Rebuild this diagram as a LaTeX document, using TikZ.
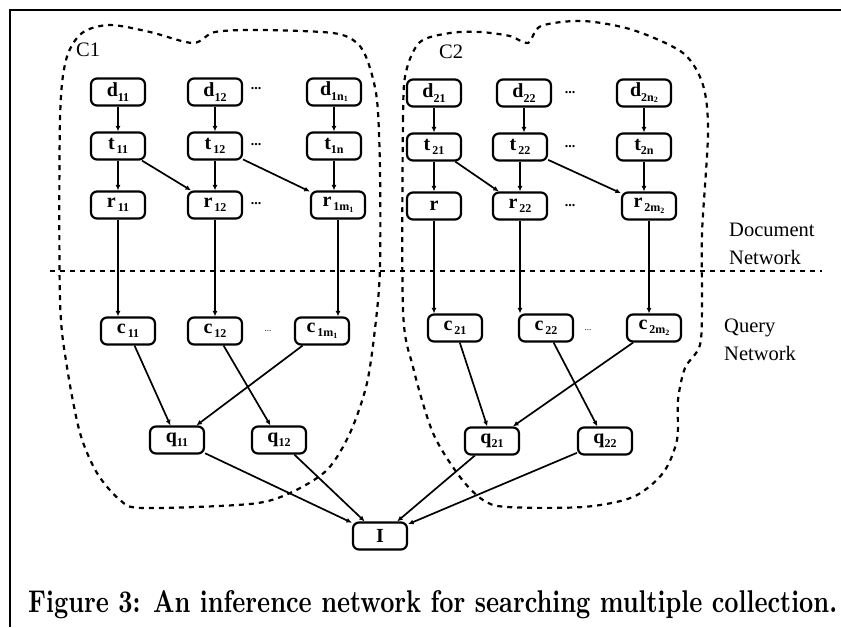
\documentclass[tikz,border=0pt]{standalone}
\usepackage{fontspec}
\usepackage{graphicx}
\newfontfamily\tms{Liberation Serif}
\usetikzlibrary{arrows.meta}
\newcommand{\lb}[2]{#1\raisebox{-0.45ex}{\fontsize{12}{12}\selectfont #2}}
\newcommand{\sss}[1]{\raisebox{-0.35ex}{\fontsize{8}{8}\selectfont #1}}
\begin{document}
\begin{tikzpicture}[x=1pt,y=-1pt,
  nd/.style={draw, line width=2.2pt, rounded corners=6pt, minimum width=54pt,
    minimum height=27pt, inner sep=0pt, font=\tms\bfseries\fontsize{20}{20}\selectfont},
  ar/.style={line width=1.7pt, -{Latex[length=5.5pt,width=5pt]}},
  blob/.style={line width=2.2pt, dash pattern=on 5pt off 5pt},
  dts/.style={font=\tms\bfseries\fontsize{14}{14}\selectfont, inner sep=0pt},
  sdts/.style={font=\tms\fontsize{9}{9}\selectfont, inner sep=0pt},
  lbl/.style={font=\tms\fontsize{20.5}{28}\selectfont, align=left, anchor=west, inner sep=0pt}]
\useasboundingbox (0,0) rectangle (841,627);
% frame
\draw[line width=2.5pt] (10,627) -- (10,10) -- (841,10);
% separator
\draw[blob] (50,271) -- (822,271);
% collection outlines
\draw[blob] plot[smooth cycle, tension=0.5] coordinates {
 (60,300) (60,120) (66,60) (82,33) (110,25) (150,32) (193,43) (215,32) (260,30)
 (333,33) (357,43) (368,62) (377,100) (380,170) (380,267) (376,320) (367,383)
 (350,433) (327,470) (290,493) (250,504) (143,508) (120,500) (97,473) (80,433) (67,367)};
\draw[blob] plot[smooth cycle, tension=0.5] coordinates {
 (403,310) (403,120) (406,72) (420,42) (450,33) (480,32) (510,36) (528,43) (541,26)
 (583,21) (633,30) (683,53) (703,85) (708,133) (702,233) (702,300) (700,345) (685,368)
 (678,400) (677,440) (663,473) (633,497) (583,507) (507,507) (483,500) (460,477)
 (433,433) (413,367)};
% collection labels
\node[lbl] (C1) at (76,50) {C1};
\node[lbl] (C2) at (439,52) {C2};
% side labels
\node[lbl] (docnet) at (729,244) {Document\\Network};
\node[lbl] (qnet) at (724,340) {Query\\Network};
% collection 1 nodes
\node[nd] (d11) at (118,92) {\lb{d}{11}};
\node[nd] (d12) at (215,92) {\lb{d}{12}};
\node[nd] (d1n) at (334,92) {\lb{d}{1n\sss{1}}};
\node[nd] (t11) at (118,146) {\lb{t}{\,11}};
\node[nd] (t12) at (215,146) {\lb{t}{\,12}};
\node[nd] (t1n) at (334,146) {\lb{t}{1n}};
\node[nd] (r11) at (118,205) {\lb{r}{\,11}};
\node[nd] (r12) at (215,205) {\lb{r}{\,12}};
\node[nd] (r1m) at (338,205) {\lb{r}{\,1m\sss{1}}};
\node[nd] (c11) at (128,331) {\lb{c}{\,11}};
\node[nd] (c12) at (215,331) {\lb{c}{\,12}};
\node[nd] (c1m) at (322,331) {\lb{c}{\,1m\sss{1}}};
\node[nd] (q11) at (177,440) {\lb{q}{11}};
\node[nd] (q12) at (279,440) {\lb{q}{12}};
% collection 2 nodes
\node[nd] (d21) at (434,93) {\lb{d}{21}};
\node[nd] (d22) at (524,93) {\lb{d}{22}};
\node[nd] (d2n) at (644,93) {\lb{d}{2n\sss{2}}};
\node[nd] (t21) at (434,147) {\lb{t}{\,21}};
\node[nd] (t22) at (520,147) {\lb{t}{\,22}};
\node[nd] (t2n) at (644,147) {\lb{t}{2n}};
\node[nd] (r21) at (434,206) {r};
\node[nd] (r22) at (520,206) {\lb{r}{\,22}};
\node[nd] (r2m) at (649,206) {\lb{r}{\,2m\sss{2}}};
\node[nd] (c21) at (455,328) {\lb{c}{\,21}};
\node[nd] (c22) at (546,328) {\lb{c}{\,22}};
\node[nd] (c2m) at (654,328) {\lb{c}{\,2m\sss{2}}};
\node[nd] (q21) at (492,441) {\lb{q}{21}};
\node[nd] (q22) at (605,441) {\lb{q}{22}};
% final node
\node[nd] (I) at (380,536) {I};
% ellipses
\node[dts] (e1) at (256,89) {...};
\node[dts] (e2) at (256,145) {...};
\node[dts] (e3) at (256,204) {...};
\node[sdts] (e4) at (268,331) {...};
\node[dts] (e5) at (570,93) {...};
\node[dts] (e6) at (570,147) {...};
\node[dts] (e7) at (570,206) {...};
\node[sdts] (e8) at (588,330) {...};
% edges collection 1
\draw[ar] (d11) -- (t11);
\draw[ar] (d12) -- (t12);
\draw[ar] (d1n) -- (t1n);
\draw[ar] (t11) -- (r11);
\draw[ar] (t11) -- (r12);
\draw[ar] (t12) -- (r12);
\draw[ar] (t12) -- (r1m);
\draw[ar] (t1n.south) -- (t1n.south |- r1m.north);
\draw[ar] (r11.south) -- (r11.south |- c11.north);
\draw[ar] (r12.south) -- (r12.south |- c12.north);
\draw[ar] (r1m.south) -- (r1m.south |- c1m.north);
\draw[ar] (c11) -- (q11);
\draw[ar] (c1m) -- (q11);
\draw[ar] (c12) -- (q12);
\draw[ar] (q11) -- (I);
\draw[ar] (q12) -- (I);
% edges collection 2
\draw[ar] (d21) -- (t21);
\draw[ar] (d22.south) -- (d22.south |- t22.north);
\draw[ar] (d2n) -- (t2n);
\draw[ar] (t21) -- (r21);
\draw[ar] (t21) -- (r22);
\draw[ar] (t22) -- (r22);
\draw[ar] (t22) -- (r2m);
\draw[ar] (t2n.south) -- (t2n.south |- r2m.north);
\draw[ar] (r21.south) -- (r21.south |- c21.north);
\draw[ar] (r22.south) -- (r22.south |- c22.north);
\draw[ar] (r2m.south) -- (r2m.south |- c2m.north);
\draw[ar] (c21) -- (q21);
\draw[ar] (c2m) -- (q21);
\draw[ar] (c22) -- (q22);
\draw[ar] (q21) -- (I);
\draw[ar] (q22) -- (I);
% caption
\node[anchor=base west, inner sep=0pt] (cap) at (28,612)
  {\resizebox{809pt}{22pt}{\bfseries Figure 3: An inference network for searching multiple collection.}};
\end{tikzpicture}
\end{document}
